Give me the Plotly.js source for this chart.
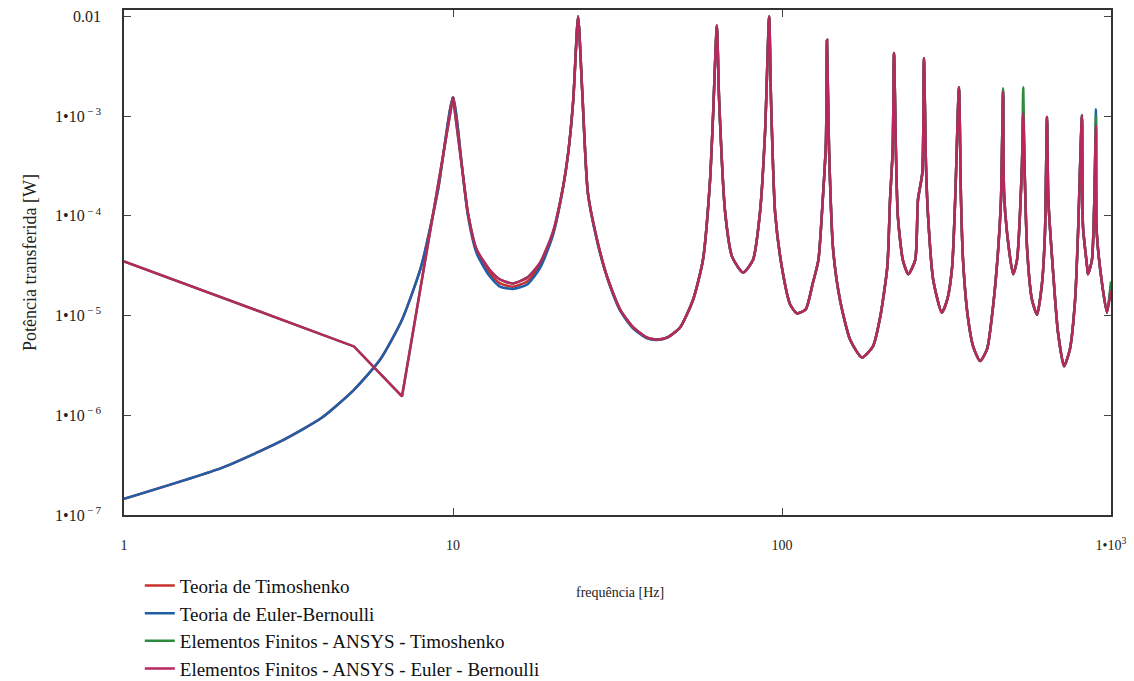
<!DOCTYPE html>
<html>
<head>
<meta charset="utf-8">
<script src="https://cdn.plot.ly/plotly-3.0.1.min.js"></script>
<style>
  html, body { margin: 0; padding: 0; background: #ffffff; }
  #chart { width: 1134px; height: 681px; }
</style>
</head>
<body>
<div id="chart"></div>
<script>
// ---------- Data ----------
const seriesNames = [
  "Teoria de Timoshenko",
  "Teoria de Euler-Bernoulli",
  "Elementos Finitos - ANSYS - Timoshenko",
  "Elementos Finitos - ANSYS - Euler - Bernoulli"
];

// analytic solutions: frequency [Hz]
const freqAnalytic = [1, 2, 3, 4, 5, 6, 7, 8, 9,
  10, 10.7, 11.1, 11.8, 12.9, 13.9, 15.2, 16.8, 18.4, 20.1, 21.6, 22.4, 23.2, 24.0, 24.7, 25.7, 27.4, 29.4,
  32.2, 35.3, 38.9, 41.7, 44.7, 49, 53.7, 57.5, 60.4, 61.7, 63.4, 64.4, 67.2, 70.5, 76.1, 81.6, 85.7, 88.8,
  91.4, 92.6, 95.3, 100, 105.8, 111, 118, 124, 129, 133, 136, 137, 139, 143, 150, 161, 175, 189, 199,
  209, 213, 217, 219, 222, 225, 233, 242, 254, 259, 267, 270, 274, 278, 288, 306, 318, 329, 336, 345,
  350, 355, 367, 381, 400, 420, 438, 454, 463, 470, 473, 483, 504, 518, 536, 541, 546, 556, 575, 596,
  617, 630, 639, 645, 667, 690, 720, 750, 778, 794, 816, 822, 846, 851, 875, 890, 900, 905, 939, 972, 1000];

// Teoria de Timoshenko [W]
const powerTimoshenko = [1.45e-7, 3.0e-7, 5.5e-7, 9.5e-7, 1.8e-6, 3.6e-6, 9.1e-6, 3.1e-5, 1.8e-4,
  1.55e-3, 2.7e-4, 1.07e-4, 4.4e-5, 2.7e-5, 2.1e-5, 1.95e-5, 2.2e-5, 3.2e-5, 6.5e-5, 1.95e-4, 4.3e-4, 1.45e-3, 1.0e-2, 1.8e-3, 1.7e-4, 5.8e-5, 2.45e-5,
  1.15e-5, 7.6e-6, 6.0e-6, 5.75e-6, 6.0e-6, 7.6e-6, 1.45e-5, 3.6e-5, 2.2e-4, 9.8e-4, 8.1e-3, 1.45e-3, 1.07e-4, 3.9e-5, 2.7e-5, 3.6e-5, 1.07e-4, 6.8e-4,
  1.0e-2, 1.45e-3, 1.07e-4, 3.0e-5, 1.3e-5, 1.05e-5, 1.15e-5, 2.1e-5, 3.6e-5, 1.45e-4, 5.4e-4, 5.8e-3, 4.6e-4, 4.6e-5, 1.45e-5, 5.75e-6, 3.8e-6, 4.9e-6, 9.8e-6,
  3.1e-5, 1.45e-4, 4.6e-4, 4.3e-3, 4.3e-4, 9.8e-5, 3.6e-5, 2.6e-5, 3.6e-5, 1.45e-4, 2.7e-4, 3.8e-3, 3.1e-4, 9.8e-5, 2.3e-5, 1.07e-5, 1.45e-5, 3.1e-5, 1.45e-4, 1.95e-3,
  1.45e-4, 3.6e-5, 9.8e-6, 4.9e-6, 3.5e-6, 4.6e-6, 1.23e-5, 4.6e-5, 1.45e-4, 1.8e-3, 1.7e-4, 6.8e-5, 2.6e-5, 3.6e-5, 3.1e-4, 1.1e-3, 3.1e-4, 4.6e-5, 1.45e-5, 1.02e-5,
  2.1e-5, 6.8e-5, 9.8e-4, 1.45e-4, 2.7e-5, 6.8e-6, 3.1e-6, 4.6e-6, 1.45e-5, 6.8e-5, 1.02e-3, 7.8e-5, 3.1e-5, 2.6e-5, 3.6e-5, 1.45e-4, 8.0e-4, 6.8e-5, 2.1e-5, 1.07e-5, 2.0e-5];

// Teoria de Euler-Bernoulli [W]
const powerEulerBernoulli = [1.45e-7, 3.0e-7, 5.5e-7, 9.5e-7, 1.8e-6, 3.6e-6, 9.1e-6, 3.1e-5, 1.8e-4,
  1.55e-3, 2.7e-4, 1.0e-4, 4.2e-5, 2.5e-5, 1.95e-5, 1.85e-5, 2.05e-5, 3.0e-5, 6.3e-5, 1.9e-4, 4.3e-4, 1.45e-3, 1.0e-2, 1.8e-3, 1.7e-4, 5.6e-5, 2.4e-5,
  1.12e-5, 7.4e-6, 5.9e-6, 5.7e-6, 6.0e-6, 7.6e-6, 1.45e-5, 3.6e-5, 2.2e-4, 9.8e-4, 8.1e-3, 1.45e-3, 1.07e-4, 3.9e-5, 2.7e-5, 3.6e-5, 1.07e-4, 6.8e-4,
  1.0e-2, 1.45e-3, 1.07e-4, 3.0e-5, 1.3e-5, 1.05e-5, 1.15e-5, 2.1e-5, 3.6e-5, 1.45e-4, 5.4e-4, 5.8e-3, 4.6e-4, 4.6e-5, 1.45e-5, 5.75e-6, 3.8e-6, 4.9e-6, 9.8e-6,
  3.1e-5, 1.45e-4, 4.6e-4, 4.3e-3, 4.3e-4, 9.8e-5, 3.6e-5, 2.6e-5, 3.6e-5, 1.45e-4, 2.7e-4, 3.8e-3, 3.1e-4, 9.8e-5, 2.3e-5, 1.07e-5, 1.45e-5, 3.1e-5, 1.45e-4, 1.95e-3,
  1.45e-4, 3.6e-5, 9.8e-6, 4.9e-6, 3.5e-6, 4.6e-6, 1.23e-5, 4.6e-5, 1.45e-4, 1.8e-3, 1.7e-4, 6.8e-5, 2.6e-5, 3.6e-5, 3.1e-4, 1.1e-3, 3.1e-4, 4.6e-5, 1.45e-5, 1.02e-5,
  2.1e-5, 6.8e-5, 9.8e-4, 1.45e-4, 2.7e-5, 6.8e-6, 3.1e-6, 4.6e-6, 1.45e-5, 6.8e-5, 1.02e-3, 7.8e-5, 3.1e-5, 2.6e-5, 3.6e-5, 1.45e-4, 1.17e-3, 6.8e-5, 2.1e-5, 1.07e-5, 2.0e-5];

// finite element (ANSYS) solutions: frequency [Hz]
const freqAnsys = [1, 3, 5, 7,
  10, 10.7, 11.1, 11.8, 12.9, 13.9, 15.2, 16.8, 18.4, 20.1, 21.6, 22.4, 23.2, 24.0, 24.7, 25.7, 27.4, 29.4,
  32.2, 35.3, 38.9, 41.7, 44.7, 49, 53.7, 57.5, 60.4, 61.7, 63.4, 64.4, 67.2, 70.5, 76.1, 81.6, 85.7, 88.8,
  91.4, 92.6, 95.3, 100, 105.8, 111, 118, 124, 129, 133, 136, 137, 139, 143, 150, 161, 175, 189, 199,
  209, 213, 217, 219, 222, 225, 233, 242, 254, 259, 267, 270, 274, 278, 288, 306, 318, 329, 336, 345,
  350, 355, 367, 381, 400, 420, 438, 454, 463, 470, 473, 483, 504, 518, 536, 541, 546, 556, 575, 596,
  617, 630, 639, 645, 667, 690, 720, 750, 778, 794, 816, 822, 846, 851, 875, 890, 900, 905, 939, 972, 1000];

// Elementos Finitos - ANSYS - Timoshenko [W]
const powerAnsysTimoshenko = [3.5e-5, 9.1e-6, 4.9e-6, 1.55e-6,
  1.55e-3, 2.7e-4, 1.07e-4, 4.6e-5, 2.9e-5, 2.3e-5, 2.1e-5, 2.4e-5, 3.4e-5, 6.8e-5, 1.95e-4, 4.3e-4, 1.45e-3, 1.0e-2, 1.8e-3, 1.7e-4, 5.8e-5, 2.45e-5,
  1.15e-5, 7.6e-6, 6.0e-6, 5.75e-6, 6.0e-6, 7.6e-6, 1.45e-5, 3.6e-5, 2.2e-4, 9.8e-4, 8.1e-3, 1.45e-3, 1.07e-4, 3.9e-5, 2.7e-5, 3.6e-5, 1.07e-4, 6.8e-4,
  1.0e-2, 1.45e-3, 1.07e-4, 3.0e-5, 1.3e-5, 1.05e-5, 1.15e-5, 2.1e-5, 3.6e-5, 1.45e-4, 5.4e-4, 5.8e-3, 4.6e-4, 4.6e-5, 1.45e-5, 5.75e-6, 3.8e-6, 4.9e-6, 9.8e-6,
  3.1e-5, 1.45e-4, 4.6e-4, 4.3e-3, 4.3e-4, 9.8e-5, 3.6e-5, 2.6e-5, 3.6e-5, 1.45e-4, 2.7e-4, 3.8e-3, 3.1e-4, 9.8e-5, 2.3e-5, 1.07e-5, 1.45e-5, 3.1e-5, 1.45e-4, 1.95e-3,
  1.45e-4, 3.6e-5, 9.8e-6, 4.9e-6, 3.5e-6, 4.6e-6, 1.23e-5, 4.6e-5, 1.45e-4, 1.9e-3, 1.7e-4, 6.8e-5, 2.6e-5, 3.6e-5, 3.1e-4, 1.95e-3, 3.1e-4, 4.6e-5, 1.45e-5, 1.02e-5,
  2.1e-5, 6.8e-5, 9.8e-4, 1.45e-4, 2.7e-5, 6.8e-6, 3.1e-6, 4.6e-6, 1.45e-5, 6.8e-5, 1.02e-3, 7.8e-5, 3.1e-5, 2.6e-5, 3.6e-5, 1.45e-4, 1.0e-3, 6.8e-5, 2.1e-5, 1.07e-5, 2.2e-5];

// Elementos Finitos - ANSYS - Euler - Bernoulli [W]
const powerAnsysEuler = [3.5e-5, 9.1e-6, 4.9e-6, 1.55e-6,
  1.55e-3, 2.7e-4, 1.07e-4, 4.6e-5, 2.9e-5, 2.3e-5, 2.1e-5, 2.4e-5, 3.4e-5, 6.8e-5, 1.95e-4, 4.3e-4, 1.45e-3, 1.0e-2, 1.8e-3, 1.7e-4, 5.8e-5, 2.45e-5,
  1.15e-5, 7.6e-6, 6.0e-6, 5.75e-6, 6.0e-6, 7.6e-6, 1.45e-5, 3.6e-5, 2.2e-4, 9.8e-4, 8.1e-3, 1.45e-3, 1.07e-4, 3.9e-5, 2.7e-5, 3.6e-5, 1.07e-4, 6.8e-4,
  1.0e-2, 1.45e-3, 1.07e-4, 3.0e-5, 1.3e-5, 1.05e-5, 1.15e-5, 2.1e-5, 3.6e-5, 1.45e-4, 5.4e-4, 5.8e-3, 4.6e-4, 4.6e-5, 1.45e-5, 5.75e-6, 3.8e-6, 4.9e-6, 9.8e-6,
  3.1e-5, 1.45e-4, 4.6e-4, 4.3e-3, 4.3e-4, 9.8e-5, 3.6e-5, 2.6e-5, 3.6e-5, 1.45e-4, 2.7e-4, 3.8e-3, 3.1e-4, 9.8e-5, 2.3e-5, 1.07e-5, 1.45e-5, 3.1e-5, 1.45e-4, 1.95e-3,
  1.45e-4, 3.6e-5, 9.8e-6, 4.9e-6, 3.5e-6, 4.6e-6, 1.23e-5, 4.6e-5, 1.45e-4, 1.75e-3, 1.7e-4, 6.8e-5, 2.6e-5, 3.6e-5, 3.1e-4, 1.07e-3, 3.1e-4, 4.6e-5, 1.45e-5, 1.02e-5,
  2.1e-5, 6.8e-5, 9.8e-4, 1.45e-4, 2.7e-5, 6.8e-6, 3.1e-6, 4.6e-6, 1.45e-5, 6.8e-5, 1.02e-3, 7.8e-5, 3.1e-5, 2.6e-5, 3.6e-5, 1.45e-4, 8.0e-4, 6.8e-5, 2.1e-5, 1.07e-5, 1.8e-5];

// axis ticks
const xTickVals = [1, 10, 100, 1000];
const xTickText = ["1", "10", "100", "1\u202210<sup>3</sup>"];
const yTickVals = [1e-7, 1e-6, 1e-5, 1e-4, 1e-3, 1e-2];
const yTickText = ["1\u202210<sup>\u2009\u2212\u20097</sup>", "1\u202210<sup>\u2009\u2212\u20096</sup>",
  "1\u202210<sup>\u2009\u2212\u20095</sup>", "1\u202210<sup>\u2009\u2212\u20094</sup>",
  "1\u202210<sup>\u2009\u2212\u20093</sup>", "0.01"];

const xTitle = "frequência [Hz]";
const yTitle = "Potência transferida [W]";

// ---------- Chart ----------
const serif = "Liberation Serif, Times New Roman, serif";
const colors = ["#c8302c", "#1f5fa8", "#2e8b3e", "#b8285f"];

// the finite-element runs are joined by straight segments below the first
// resonance (coarse sampling) and drawn smoothly above it
const nLowAnsys = 5; // points 1, 3, 5, 7, 10 Hz
function ansysPieces(freq, power, i) {
  return [
    { x: freq.slice(0, nLowAnsys), y: power.slice(0, nLowAnsys), name: seriesNames[i],
      legendgroup: "g" + i, showlegend: false, line: { color: colors[i], width: 2.5 } },
    { x: freq.slice(nLowAnsys - 1), y: power.slice(nLowAnsys - 1), name: seriesNames[i],
      legendgroup: "g" + i, showlegend: true,
      line: { color: colors[i], width: 2.5, shape: "spline", smoothing: 0.6 } }
  ];
}

const traces = [
  { x: freqAnalytic, y: powerTimoshenko, name: seriesNames[0], legendgroup: "g0",
    line: { color: colors[0], width: 2.5, shape: "spline", smoothing: 0.6 } },
  { x: freqAnalytic, y: powerEulerBernoulli, name: seriesNames[1], legendgroup: "g1",
    line: { color: colors[1], width: 2.5, shape: "spline", smoothing: 0.6 } },
  ...ansysPieces(freqAnsys, powerAnsysTimoshenko, 2),
  ...ansysPieces(freqAnsys, powerAnsysEuler, 3)
].map(t => Object.assign(t, { type: "scatter", mode: "lines", hoverinfo: "x+y+name" }));

const layout = {
  width: 1134,
  height: 681,
  paper_bgcolor: "#ffffff",
  plot_bgcolor: "#ffffff",
  margin: { l: 124, r: 23, t: 10, b: 166 },
  font: { family: serif, color: "#222222" },
  showlegend: true,
  legend: {
    xref: "paper", yref: "container",
    x: 0.016, y: 0.168, xanchor: "left", yanchor: "top",
    bgcolor: "rgba(0,0,0,0)",
    font: { family: serif, size: 19, color: "#111111" },
    tracegroupgap: 0,
    traceorder: "normal"
  },
  annotations: [
    { text: xTitle, xref: "paper", yref: "paper", x: 0.5025, y: -0.1525,
      xanchor: "center", yanchor: "middle", showarrow: false,
      font: { family: serif, size: 14, color: "#222" } }
  ],
  xaxis: {
    type: "log",
    automargin: false,
    range: [0, 3],
    tickvals: xTickVals,
    ticktext: xTickText,
    ticks: "inside",
    ticklen: 7,
    tickcolor: "#444",
    mirror: "ticks",
    showline: true,
    linecolor: "#333",
    linewidth: 1.5,
    showgrid: false,
    zeroline: false,
    tickfont: { family: serif, size: 14, color: "#222" },
    ticklabelstandoff: 16
  },
  yaxis: {
    type: "log",
    automargin: false,
    range: [-7, -1.936],
    tickvals: yTickVals,
    ticktext: yTickText,
    ticks: "inside",
    ticklen: 7,
    tickcolor: "#444",
    mirror: "ticks",
    showline: true,
    linecolor: "#333",
    linewidth: 1.5,
    showgrid: false,
    zeroline: false,
    tickfont: { family: serif, size: 16, color: "#222" },
    ticklabelstandoff: 18,
    title: { text: yTitle, font: { family: serif, size: 18, color: "#222" }, standoff: 14 }
  }
};

Plotly.newPlot("chart", traces, layout, { displayModeBar: false, staticPlot: false });
</script>
</body>
</html>
